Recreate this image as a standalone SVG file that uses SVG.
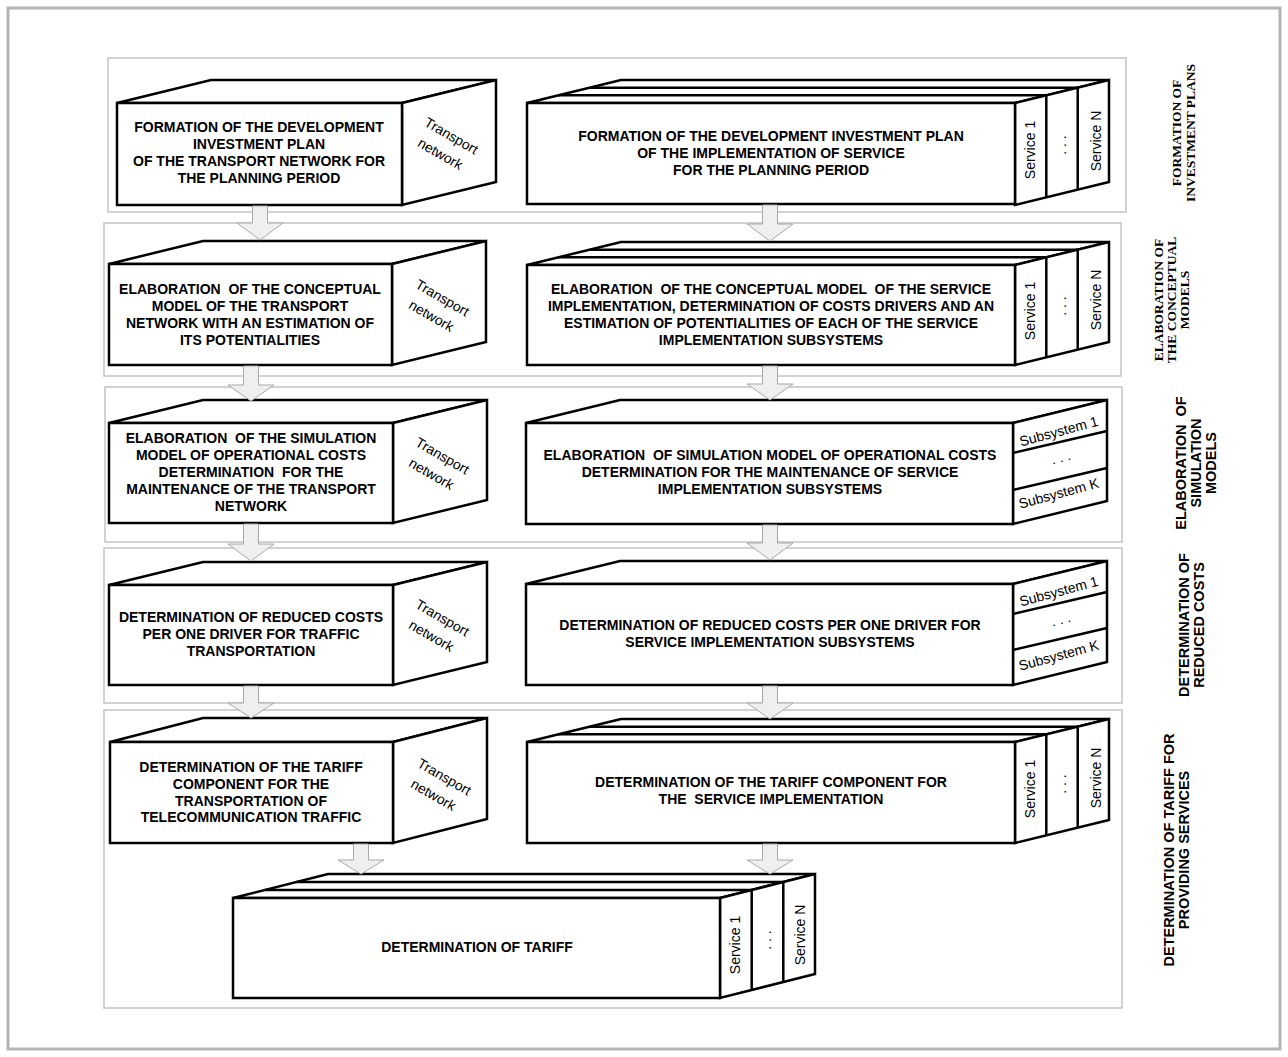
<svg xmlns="http://www.w3.org/2000/svg" width="1288" height="1057" viewBox="0 0 1288 1057">
<style>
.frame{fill:#fff;stroke:#b4b4b4;stroke-width:3}
.panel{fill:none;stroke:#c4c4c4;stroke-width:1.5}
.box{fill:#fff;stroke:#000;stroke-width:2.5;stroke-linejoin:miter}
.ln{fill:none;stroke:#000;stroke-width:2.5}
text{white-space:pre}
.t{font-family:"Liberation Sans",Arial,sans-serif;font-weight:bold;font-size:14px;text-anchor:middle;fill:#000}
.s{font-family:"Liberation Sans",Arial,sans-serif;font-size:14px;text-anchor:middle;fill:#000}
.tn{font-family:"Liberation Sans",Arial,sans-serif;font-size:14px;text-anchor:middle;fill:#000}
.ls{font-family:"Liberation Serif","Times New Roman",serif;font-weight:bold;font-size:13.5px;text-anchor:middle;fill:#000}
.lb{font-family:"Liberation Sans",Arial,sans-serif;font-weight:bold;font-size:14.5px;text-anchor:middle;fill:#000}
.arr{fill:#efefef;stroke:#a8a8a8;stroke-width:1}
</style>
<rect class="frame" x="8" y="8" width="1272" height="1041"/>
<g id="panels">
<rect class="panel" x="108" y="58" width="1018" height="154"/>
<rect class="panel" x="104" y="223" width="1017" height="153"/>
<rect class="panel" x="105" y="387" width="1017" height="155"/>
<rect class="panel" x="104" y="548" width="1018" height="155"/>
<rect class="panel" x="104" y="710" width="1018" height="298"/>
</g>
<g id="stage-labels">
<g transform="translate(1181,133) rotate(-90)"><text class="ls" x="0" y="0">FORMATION OF</text><text class="ls" x="0" y="14">INVESTMENT PLANS</text></g>
<g transform="translate(1163,300) rotate(-90)"><text class="ls" x="0" y="0">ELABORATION OF</text><text class="ls" x="0" y="13">THE CONCEPTUAL</text><text class="ls" x="0" y="26">MODELS</text></g>
<g transform="translate(1186,463) rotate(-90)"><text class="lb" x="0" y="0">ELABORATION  OF</text><text class="lb" x="0" y="15">SIMULATION</text><text class="lb" x="0" y="30">MODELS</text></g>
<g transform="translate(1189,625) rotate(-90)"><text class="lb" x="0" y="0">DETERMINATION OF</text><text class="lb" x="0" y="15">REDUCED COSTS</text></g>
<g transform="translate(1174,850) rotate(-90)"><text class="lb" x="0" y="0">DETERMINATION OF TARIFF FOR</text><text class="lb" x="0" y="15">PROVIDING SERVICES</text></g>
</g>
<!-- Left column nodes -->
<g id="L1">
<polygon class="box" points="117,103 211,80 496,80 402,103"/>
<polygon class="box" points="402,103 496,80 496,182 402,205"/>
<rect class="box" x="117" y="103" width="285" height="102"/>
<text class="t" x="259" y="132">FORMATION OF THE DEVELOPMENT</text>
<text class="t" x="259" y="149">INVESTMENT PLAN</text>
<text class="t" x="259" y="166">OF THE TRANSPORT NETWORK FOR</text>
<text class="t" x="259" y="183">THE PLANNING PERIOD</text>
<text class="tn" transform="translate(449,140) rotate(30)">Transport</text>
<text class="tn" transform="translate(438,158) rotate(30)">network</text>
</g>
<g id="L2">
<polygon class="box" points="109,264 203,241 486,241 392,264"/>
<polygon class="box" points="392,264 486,241 486,342 392,365"/>
<rect class="box" x="109" y="264" width="283" height="101"/>
<text class="t" x="250" y="294">ELABORATION  OF THE CONCEPTUAL</text>
<text class="t" x="250" y="311">MODEL OF THE TRANSPORT</text>
<text class="t" x="250" y="328">NETWORK WITH AN ESTIMATION OF</text>
<text class="t" x="250" y="345">ITS POTENTIALITIES</text>
<text class="tn" transform="translate(440,302) rotate(30)">Transport</text>
<text class="tn" transform="translate(429,320) rotate(30)">network</text>
</g>
<g id="L3">
<polygon class="box" points="109,423 203,400 487,400 393,423"/>
<polygon class="box" points="393,423 487,400 487,500 393,523"/>
<rect class="box" x="109" y="423" width="284" height="100"/>
<text class="t" x="251" y="443">ELABORATION  OF THE SIMULATION</text>
<text class="t" x="251" y="460">MODEL OF OPERATIONAL COSTS</text>
<text class="t" x="251" y="477">DETERMINATION  FOR THE</text>
<text class="t" x="251" y="494">MAINTENANCE OF THE TRANSPORT</text>
<text class="t" x="251" y="511">NETWORK</text>
<text class="tn" transform="translate(440,460) rotate(30)">Transport</text>
<text class="tn" transform="translate(429,478) rotate(30)">network</text>
</g>
<g id="L4">
<polygon class="box" points="109,585 203,562 487,562 393,585"/>
<polygon class="box" points="393,585 487,562 487,662 393,685"/>
<rect class="box" x="109" y="585" width="284" height="100"/>
<text class="t" x="251" y="622">DETERMINATION OF REDUCED COSTS</text>
<text class="t" x="251" y="639">PER ONE DRIVER FOR TRAFFIC</text>
<text class="t" x="251" y="656">TRANSPORTATION</text>
<text class="tn" transform="translate(440,622) rotate(30)">Transport</text>
<text class="tn" transform="translate(429,640) rotate(30)">network</text>
</g>
<g id="L5">
<polygon class="box" points="110,742 203,718 487,718 393,742"/>
<polygon class="box" points="393,742 487,718 487,819 393,843"/>
<rect class="box" x="110" y="742" width="283" height="101"/>
<text class="t" x="251" y="772">DETERMINATION OF THE TARIFF</text>
<text class="t" x="251" y="789">COMPONENT FOR THE</text>
<text class="t" x="251" y="806">TRANSPORTATION OF</text>
<text class="t" x="251" y="822">TELECOMMUNICATION TRAFFIC</text>
<text class="tn" transform="translate(442,781) rotate(30)">Transport</text>
<text class="tn" transform="translate(431,799) rotate(30)">network</text>
</g>
<!-- Right column nodes -->
<g id="R1">
<polygon class="box" points="527,103 621,80 1109,80 1015,103"/>
<line class="ln" x1="558" y1="95.3" x2="1046" y2="95.3"/>
<line class="ln" x1="590" y1="87.7" x2="1078" y2="87.7"/>
<polygon class="box" points="1015,103 1109,80 1109,182 1015,205"/>
<line class="ln" x1="1046.3" y1="95.3" x2="1046.3" y2="197.3"/>
<line class="ln" x1="1077.7" y1="87.7" x2="1077.7" y2="189.7"/>
<rect class="box" x="527" y="103" width="488" height="101"/>
<text class="t" x="771" y="141">FORMATION OF THE DEVELOPMENT INVESTMENT PLAN</text>
<text class="t" x="771" y="158">OF THE IMPLEMENTATION OF SERVICE</text>
<text class="t" x="771" y="175">FOR THE PLANNING PERIOD</text>
<text class="s" transform="translate(1035,150) rotate(-90)">Service 1</text>
<text class="s" transform="translate(1066,145) rotate(-90)">. . .</text>
<text class="s" transform="translate(1101,141) rotate(-90)">Service N</text>
</g>
<g id="R2">
<polygon class="box" points="527,265 621,242 1109,242 1015,265"/>
<line class="ln" x1="558" y1="257.3" x2="1046" y2="257.3"/>
<line class="ln" x1="590" y1="249.7" x2="1078" y2="249.7"/>
<polygon class="box" points="1015,265 1109,242 1109,342 1015,365"/>
<line class="ln" x1="1046.3" y1="257.3" x2="1046.3" y2="357.3"/>
<line class="ln" x1="1077.7" y1="249.7" x2="1077.7" y2="349.7"/>
<rect class="box" x="527" y="265" width="488" height="100"/>
<text class="t" x="771" y="294">ELABORATION  OF THE CONCEPTUAL MODEL  OF THE SERVICE</text>
<text class="t" x="771" y="311">IMPLEMENTATION, DETERMINATION OF COSTS DRIVERS AND AN</text>
<text class="t" x="771" y="328">ESTIMATION OF POTENTIALITIES OF EACH OF THE SERVICE</text>
<text class="t" x="771" y="345">IMPLEMENTATION SUBSYSTEMS</text>
<text class="s" transform="translate(1035,311) rotate(-90)">Service 1</text>
<text class="s" transform="translate(1066,306) rotate(-90)">. . .</text>
<text class="s" transform="translate(1101,300) rotate(-90)">Service N</text>
</g>
<g id="R3">
<polygon class="box" points="526,423 620,400 1107,400 1013,423"/>
<polygon class="box" points="1013,423 1107,400 1107,501 1013,524"/>
<line class="ln" x1="1013" y1="453" x2="1107" y2="431"/>
<line class="ln" x1="1013" y1="490" x2="1107" y2="468"/>
<rect class="box" x="526" y="423" width="487" height="101"/>
<text class="t" x="770" y="460">ELABORATION  OF SIMULATION MODEL OF OPERATIONAL COSTS</text>
<text class="t" x="770" y="477">DETERMINATION FOR THE MAINTENANCE OF SERVICE</text>
<text class="t" x="770" y="494">IMPLEMENTATION SUBSYSTEMS</text>
<text class="s" transform="translate(1060,436) rotate(-15)">Subsystem 1</text>
<text class="s" transform="translate(1062,462) rotate(-15)">. . .</text>
<text class="s" transform="translate(1060,498) rotate(-15)">Subsystem K</text>
</g>
<g id="R4">
<polygon class="box" points="526,584 620,561 1107,561 1013,584"/>
<polygon class="box" points="1013,584 1107,561 1107,662 1013,685"/>
<line class="ln" x1="1013" y1="614" x2="1107" y2="592"/>
<line class="ln" x1="1013" y1="650" x2="1107" y2="628"/>
<rect class="box" x="526" y="584" width="487" height="101"/>
<text class="t" x="770" y="630">DETERMINATION OF REDUCED COSTS PER ONE DRIVER FOR</text>
<text class="t" x="770" y="647">SERVICE IMPLEMENTATION SUBSYSTEMS</text>
<text class="s" transform="translate(1060,596) rotate(-15)">Subsystem 1</text>
<text class="s" transform="translate(1062,624) rotate(-15)">. . .</text>
<text class="s" transform="translate(1060,660) rotate(-15)">Subsystem K</text>
</g>
<g id="R5">
<polygon class="box" points="527,742 621,719 1109,719 1015,742"/>
<line class="ln" x1="558" y1="734.3" x2="1046" y2="734.3"/>
<line class="ln" x1="590" y1="726.7" x2="1078" y2="726.7"/>
<polygon class="box" points="1015,742 1109,719 1109,820 1015,843"/>
<line class="ln" x1="1046.3" y1="734.3" x2="1046.3" y2="835.3"/>
<line class="ln" x1="1077.7" y1="726.7" x2="1077.7" y2="827.7"/>
<rect class="box" x="527" y="742" width="488" height="101"/>
<text class="t" x="771" y="787">DETERMINATION OF THE TARIFF COMPONENT FOR</text>
<text class="t" x="771" y="804">THE  SERVICE IMPLEMENTATION</text>
<text class="s" transform="translate(1035,789) rotate(-90)">Service 1</text>
<text class="s" transform="translate(1066,784) rotate(-90)">. . .</text>
<text class="s" transform="translate(1101,778) rotate(-90)">Service N</text>
</g>
<g id="TARIFF">
<polygon class="box" points="233,898 328,874 815,874 720,898"/>
<line class="ln" x1="264.7" y1="890" x2="751.7" y2="890"/>
<line class="ln" x1="296.3" y1="882" x2="783.3" y2="882"/>
<polygon class="box" points="720,898 815,874 815,974 720,998"/>
<line class="ln" x1="751.7" y1="890" x2="751.7" y2="990"/>
<line class="ln" x1="783.3" y1="882" x2="783.3" y2="982"/>
<rect class="box" x="233" y="898" width="487" height="100"/>
<text class="t" x="477" y="952">DETERMINATION OF TARIFF</text>
<text class="s" transform="translate(740,945) rotate(-90)">Service 1</text>
<text class="s" transform="translate(771,940) rotate(-90)">. . .</text>
<text class="s" transform="translate(805,935) rotate(-90)">Service N</text>
</g>
<g id="connectors">
<polygon class="arr" points="252.5,206 267.5,206 267.5,223 283,223 260,240 237,223 252.5,223"/>
<polygon class="arr" points="762.5,205 777.5,205 777.5,224 793,224 770,241 747,224 762.5,224"/>
<polygon class="arr" points="243.5,366 258.5,366 258.5,385 274,385 251,401 228,385 243.5,385"/>
<polygon class="arr" points="762.5,366 777.5,366 777.5,384 793,384 770,400 747,384 762.5,384"/>
<polygon class="arr" points="243.5,524 258.5,524 258.5,544 274,544 251,561 228,544 243.5,544"/>
<polygon class="arr" points="762.5,525 777.5,525 777.5,543 793,543 770,560 747,543 762.5,543"/>
<polygon class="arr" points="243.5,686 258.5,686 258.5,703 274,703 251,718 228,703 243.5,703"/>
<polygon class="arr" points="762.5,686 777.5,686 777.5,703 793,703 770,719 747,703 762.5,703"/>
<polygon class="arr" points="353.5,844 368.5,844 368.5,860 384,860 361,874 338,860 353.5,860"/>
<polygon class="arr" points="762.5,844 777.5,844 777.5,860 793,860 770,874 747,860 762.5,860"/>
</g>
</svg>
